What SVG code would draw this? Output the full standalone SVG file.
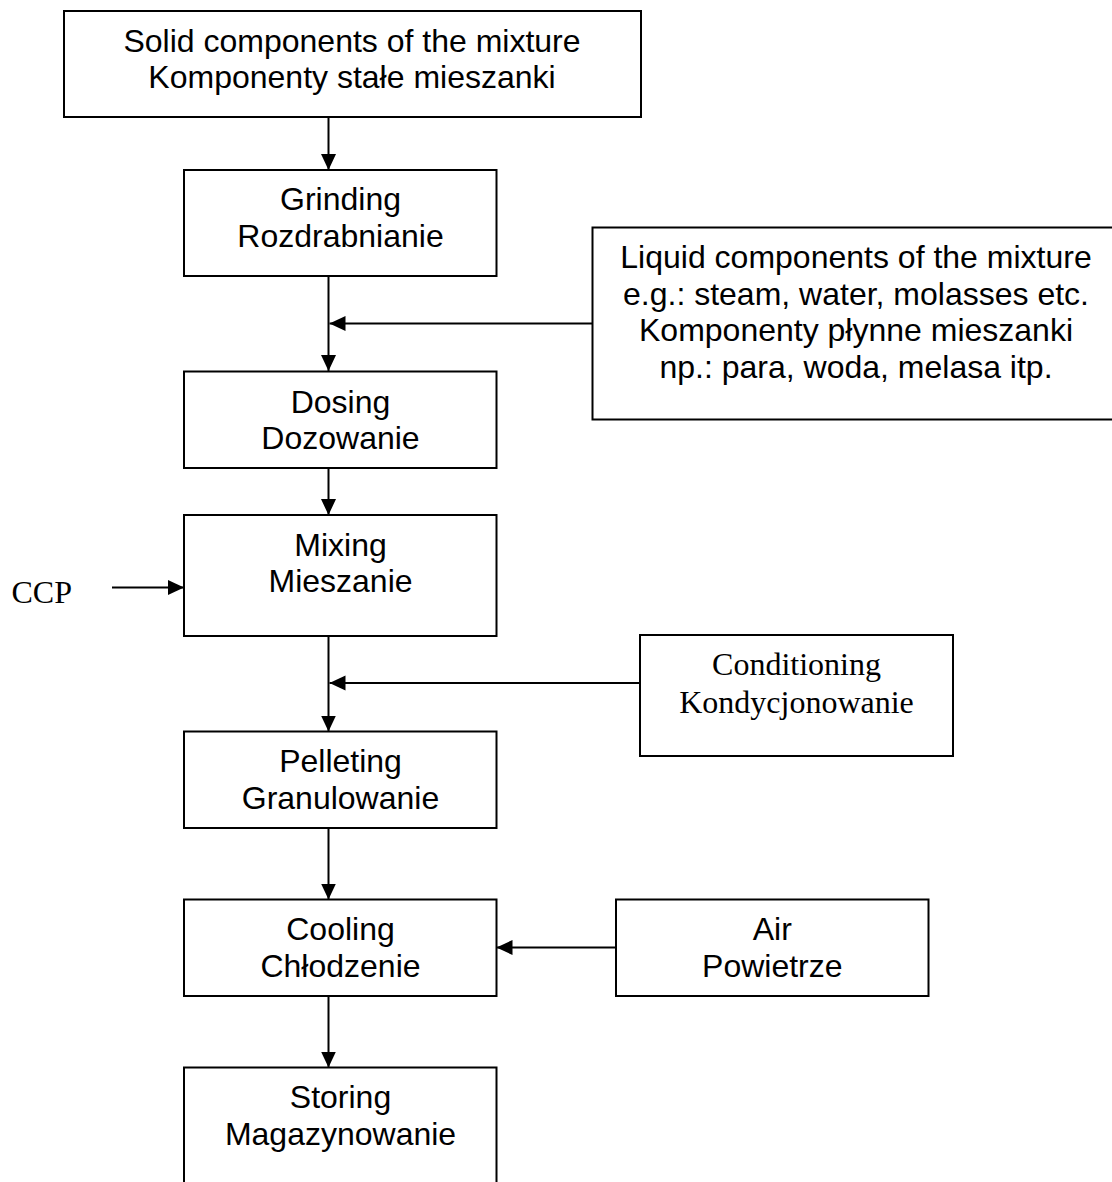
<svg xmlns="http://www.w3.org/2000/svg" width="1112" height="1182" viewBox="0 0 1112 1182">
<style>
.box{fill:#fff;stroke:#000;stroke-width:2}
.t{font-family:"Liberation Sans",Arial,sans-serif;font-size:32px;fill:#000;text-anchor:middle}
.s{font-family:"Liberation Serif","Times New Roman",serif;font-size:32px;fill:#000;text-anchor:middle}
.c{stroke:#000;stroke-width:2;fill:none;marker-end:url(#ah)}
</style>
<defs>
<marker id="ah" markerUnits="userSpaceOnUse" markerWidth="16" markerHeight="16" refX="16" refY="8" orient="auto" viewBox="0 0 16 16">
<path d="M0,0.5 L16,8 L0,15.5 z" fill="#000"/>
</marker>
</defs>
<rect width="1112" height="1182" fill="#fff"/>
<g id="connectors">
<line class="c" x1="328.5" y1="117" x2="328.5" y2="170"/>
<line class="c" x1="328.5" y1="276" x2="328.5" y2="371"/>
<line class="c" x1="592.5" y1="323.5" x2="329.5" y2="323.5"/>
<line class="c" x1="328.5" y1="468" x2="328.5" y2="515"/>
<line class="c" x1="112" y1="587.5" x2="184" y2="587.5"/>
<line class="c" x1="328.5" y1="636" x2="328.5" y2="731.5"/>
<line class="c" x1="640" y1="683" x2="329.5" y2="683"/>
<line class="c" x1="328.5" y1="828" x2="328.5" y2="899.5"/>
<line class="c" x1="616" y1="947.5" x2="496.5" y2="947.5"/>
<line class="c" x1="328.5" y1="996" x2="328.5" y2="1067.5"/>
</g>
<g id="solid">
<rect class="box" x="64" y="11" width="577" height="106"/>
<text class="t" x="352" y="51.7">Solid components of the mixture</text>
<text class="t" x="352" y="88.4">Komponenty stałe mieszanki</text>
</g>
<g id="grinding">
<rect class="box" x="184" y="170" width="312.5" height="106"/>
<text class="t" x="340.5" y="210">Grinding</text>
<text class="t" x="340.5" y="246.7">Rozdrabnianie</text>
</g>
<g id="liquid">
<rect class="box" x="592.5" y="227.5" width="528" height="192"/>
<text class="t" x="856" y="268">Liquid components of the mixture</text>
<text class="t" x="856" y="304.7">e.g.: steam, water, molasses etc.</text>
<text class="t" x="856" y="341.4">Komponenty płynne mieszanki</text>
<text class="t" x="856" y="378.1">np.: para, woda, melasa itp.</text>
</g>
<g id="dosing">
<rect class="box" x="184" y="371.5" width="312.5" height="96.5"/>
<text class="t" x="340.5" y="412.7">Dosing</text>
<text class="t" x="340.5" y="449.4">Dozowanie</text>
</g>
<g id="ccp">
<text class="s" x="11.5" y="602.7" style="text-anchor:start">CCP</text>
</g>
<g id="mixing">
<rect class="box" x="184" y="515" width="312.5" height="121"/>
<text class="t" x="340.5" y="555.5">Mixing</text>
<text class="t" x="340.5" y="592.2">Mieszanie</text>
</g>
<g id="conditioning">
<rect class="box" x="640" y="635" width="313" height="121"/>
<text class="s" x="796.5" y="675">Conditioning</text>
<text class="s" x="796.5" y="712.7">Kondycjonowanie</text>
</g>
<g id="pelleting">
<rect class="box" x="184" y="731.5" width="312.5" height="96.5"/>
<text class="t" x="340.5" y="772">Pelleting</text>
<text class="t" x="340.5" y="808.7">Granulowanie</text>
</g>
<g id="cooling">
<rect class="box" x="184" y="899.5" width="312.5" height="96.5"/>
<text class="t" x="340.5" y="940">Cooling</text>
<text class="t" x="340.5" y="976.7">Chłodzenie</text>
</g>
<g id="air">
<rect class="box" x="616" y="899.5" width="312.5" height="96.5"/>
<text class="t" x="772.3" y="940">Air</text>
<text class="t" x="772.3" y="976.7">Powietrze</text>
</g>
<g id="storing">
<rect class="box" x="184" y="1067.5" width="312.5" height="200"/>
<text class="t" x="340.5" y="1108">Storing</text>
<text class="t" x="340.5" y="1144.7">Magazynowanie</text>
</g>
</svg>
